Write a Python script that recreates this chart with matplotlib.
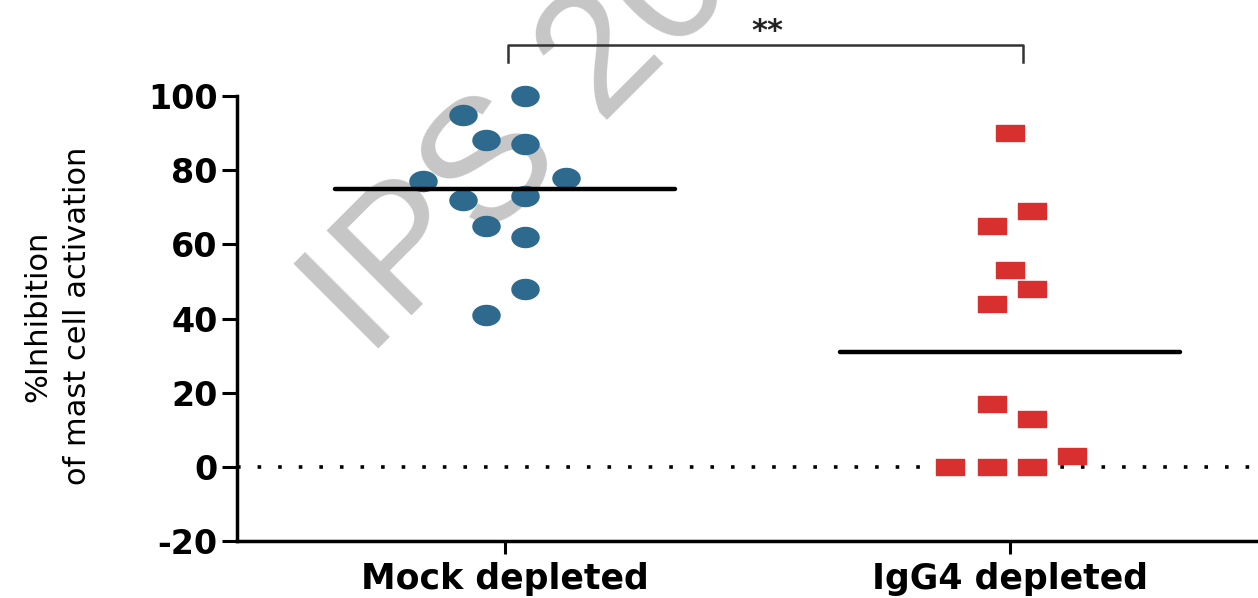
import matplotlib
matplotlib.use("Agg")
import matplotlib.pyplot as plt
import numpy as np
from matplotlib.path import Path

plt.rcParams["axes.unicode_minus"] = False

# data
groups = ["Mock depleted", "IgG4 depleted"]

mock_values = [100, 95, 88, 87, 77, 78, 72, 73, 65, 62, 48, 41]
mock_jitter = [0.04, -0.083, -0.038, 0.04, -0.162, 0.12, -0.083, 0.04, -0.038, 0.04, 0.04, -0.038]

igg4_values = [90, 69, 65, 53, 48, 44, 17, 13, 0, 0, 0, 3]
igg4_jitter = [0.0, 0.044, -0.036, 0.0, 0.044, -0.036, -0.036, 0.044, -0.119, -0.036, 0.044, 0.123]

group_means = [75, 31]
yticks = [-20, 0, 20, 40, 60, 80, 100]

blue = "#2d6a8e"
red = "#d8302f"

# stretched markers (the original image is wider than tall)
t = np.linspace(0, 2 * np.pi, 60)
ellipse = Path(np.column_stack([1.35 * np.cos(t), np.sin(t)]), closed=True)
rect = Path([(-1.6, -1), (1.6, -1), (1.6, 1), (-1.6, 1), (-1.6, -1)], closed=True)

fig = plt.figure(figsize=(12.58, 5.98), dpi=100)
ax = fig.add_axes([237 / 1258, 1 - 541 / 598, 1 - 237 / 1258, (541 - 96) / 598])

# watermark, behind the data marks
ax.text(368 / 1258, 1 - 360 / 598, "IPS 20", rotation=45, rotation_mode="anchor",
        ha="left", va="baseline", fontsize=126, color="#c6c6c6",
        family="Liberation Sans", transform=fig.transFigure, clip_on=False, zorder=0.5)

# zero reference line
ax.axhline(0, color="black", lw=2.6, linestyle=(0, (1, 4.7)), zorder=1)

x_mock = 1 + np.array(mock_jitter)
x_igg4 = 2 + np.array(igg4_jitter)
ax.plot(x_mock, mock_values, linestyle="none", marker=ellipse, ms=19.5,
        color=blue, mec=blue, clip_on=False, zorder=3)
ax.plot(x_igg4, igg4_values, linestyle="none", marker=rect, ms=19.5,
        color=red, mec=red, clip_on=False, zorder=3)

# mean lines
for i, m in enumerate(group_means):
    ax.plot([i + 1 - 0.337, i + 1 + 0.337], [m, m], color="black", lw=3.2, zorder=4,
            solid_capstyle="round")

# significance bracket
ax.plot([1.006, 1.006, 2.026, 2.026], [109.2, 113.8, 113.8, 109.2], color="#333333",
        lw=1.8, clip_on=False)
ax.text(1.52, 117.3, "**", ha="center", va="center", fontsize=22, fontweight="bold",
        color="#222222")

ax.set_xlim(0.469, 2.491)
ax.set_ylim(-20, 100)
ax.set_yticks(yticks)
ax.set_xticks([1, 2])
ax.set_xticklabels(groups)

for side in ["top", "right"]:
    ax.spines[side].set_visible(False)
for side in ["left", "bottom"]:
    ax.spines[side].set_linewidth(2.5)

ax.tick_params(axis="y", length=11, width=2.2, pad=3, labelsize=24)
ax.tick_params(axis="x", length=9, width=2.2, pad=6, labelsize=25)
for lab in ax.get_xticklabels() + ax.get_yticklabels():
    lab.set_fontweight("bold")

fig.text(58 / 1258, 1 - 316 / 598, "%Inhibition\nof mast cell activation",
         rotation=90, ha="center", va="center", fontsize=22, linespacing=1.45)

fig.savefig("out.png", dpi=100)
